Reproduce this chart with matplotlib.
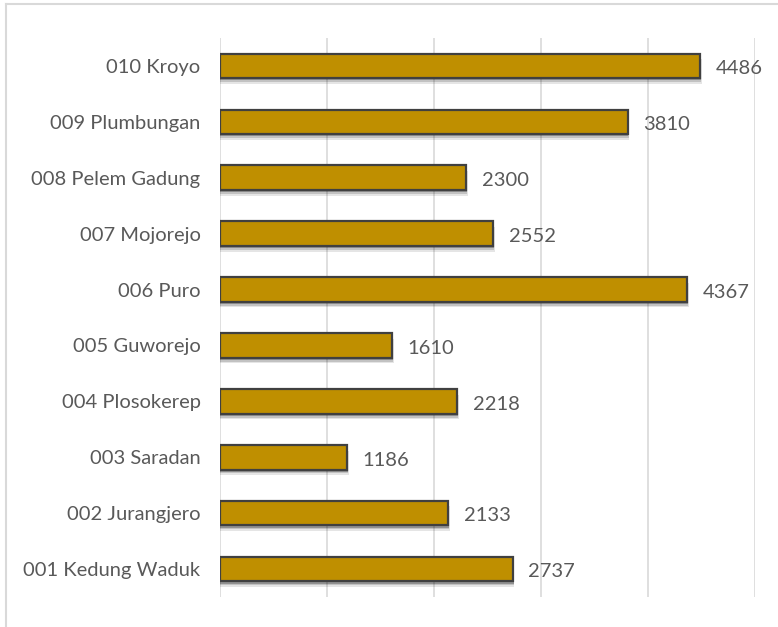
import matplotlib.pyplot as plt
from matplotlib.lines import Line2D

villages = ['001 Kedung Waduk', '002 Jurangjero', '003 Saradan', '004 Plosokerep',
            '005 Guworejo', '006 Puro', '007 Mojorejo', '008 Pelem Gadung',
            '009 Plumbungan', '010 Kroyo']
values = [2737, 2133, 1186, 2218, 1610, 4367, 2552, 2300, 3810, 4486]

plt.rcParams['font.family'] = ['Lato', 'DejaVu Sans']
text_color = '#595959'

fig = plt.figure(figsize=(7.78, 6.27), dpi=100)
ax = fig.add_axes([220 / 778, 30 / 627, 535 / 778, 559 / 627])

pos = list(range(len(villages)))
h = 0.44
# soft shadow under bars
for off, a in [(0.10, 0.10), (0.07, 0.15), (0.04, 0.25)]:
    ax.barh([p - off for p in pos], [v + off * 150 for v in values], height=h,
            color='#000000', alpha=a, linewidth=0, zorder=2)
ax.barh(pos, values, height=h, color='#BF8F00', edgecolor='#404040',
        linewidth=1.6, zorder=3)

for p, v in zip(pos, values):
    ax.text(v + 145, p - 0.05, str(v), va='center', ha='left', fontsize=14.5,
            color=text_color)

ax.set_xlim(0, 5000)
ax.set_ylim(-0.5, len(villages) - 0.5)
ax.set_xticks(range(0, 5001, 1000))
ax.xaxis.grid(True, color='#D9D9D9', linewidth=1.2, zorder=0)
ax.set_axisbelow(True)
ax.tick_params(axis='x', length=0, labelbottom=False)
ax.tick_params(axis='y', length=0, pad=14, labelsize=14.5, labelcolor=text_color)
ax.set_yticks(pos)
ax.set_yticklabels(villages)
for s in ax.spines.values():
    s.set_visible(False)

# chart frame (top and left edges visible)
fig.add_artist(Line2D([6 / 778, 1.0], [1 - 4 / 627, 1 - 4 / 627], color='#D9D9D9',
                      linewidth=1.5, transform=fig.transFigure))
fig.add_artist(Line2D([6 / 778, 6 / 778], [0.0, 1 - 4 / 627], color='#D9D9D9',
                      linewidth=1.5, transform=fig.transFigure))

fig.savefig('out.png', dpi=100)
